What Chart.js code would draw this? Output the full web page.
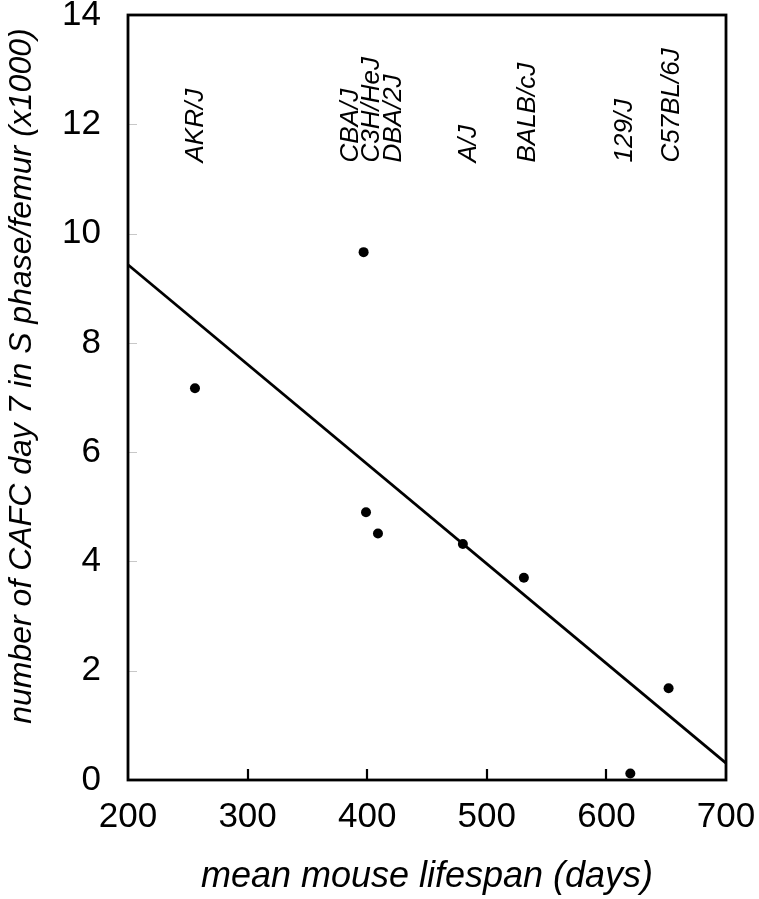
<!DOCTYPE html>
<html>
<head>
<meta charset="utf-8">
<script src="https://cdn.jsdelivr.net/npm/chart.js@4/dist/chart.umd.min.js"></script>
<style>
  html, body { margin:0; padding:0; background:#fff; }
  #wrap { width:759px; height:899px; }
</style>
</head>
<body>
<div id="wrap"><canvas id="chart" width="759" height="899"></canvas></div>
<script>
// mean lifespan (days) vs CAFC day 7 in S phase per femur (x1000)
const lifespan = [256, 397, 399, 409, 480, 531, 620, 652];
const cafc     = [7.17, 9.66, 4.90, 4.51, 4.32, 3.70, 0.12, 1.68];

// regression line end points
const fitX = [200, 700];
const fitY = [9.43, 0.31];

// strain labels along the top of the plot
const strains      = ["AKR/J", "CBA/J", "C3H/HeJ", "DBA/2J", "A/J", "BALB/cJ", "129/J", "C57BL/6J"];
const strainLabelX = [257, 386, 404, 422, 485, 534, 615, 655];
const strainLabelY = 11.3;

const xTicks = [200, 300, 400, 500, 600, 700];
const yTicks = [0, 2, 4, 6, 8, 10, 12, 14];

const yTitle = "number of CAFC day 7 in S phase/femur (x1000)";

const FONT = "'Liberation Sans', Arial, Helvetica, sans-serif";

const framePlugin = {
  id: "frame",
  afterDraw(chart){
    const {ctx, chartArea:{left, right, top, bottom}, scales:{x, y}} = chart;
    ctx.save();
    // inside ticks on x axis
    ctx.strokeStyle = "#000";
    ctx.lineWidth = 2.2;
    xTicks.slice(1, -1).forEach(v => {
      const px = Math.round(x.getPixelForValue(v));
      ctx.beginPath();
      ctx.moveTo(px, bottom);
      ctx.lineTo(px, bottom - 11);
      ctx.stroke();
    });
    // faint inside ticks on y axis
    ctx.strokeStyle = "#c8c8c8";
    ctx.lineWidth = 1;
    yTicks.slice(1, -1).forEach(v => {
      const py = Math.round(y.getPixelForValue(v)) + 0.5;
      ctx.beginPath();
      ctx.moveTo(left, py);
      ctx.lineTo(left + 9, py);
      ctx.stroke();
    });
    ctx.strokeStyle = "#000";
    ctx.lineWidth = 2.8;
    ctx.strokeRect(left, top, right - left, bottom - top);

    ctx.fillStyle = "#000";
    // y axis title, sits a little above the plot centre in the original
    ctx.font = `italic 32px ${FONT}`;
    ctx.textAlign = "center";
    ctx.textBaseline = "middle";
    ctx.save();
    ctx.translate(22, top + (bottom - top) * 0.472);
    ctx.rotate(-Math.PI / 2);
    ctx.fillText(yTitle, 0, 0);
    ctx.restore();

    // strain names
    ctx.font = `italic 26px ${FONT}`;
    ctx.textAlign = "left";
    strains.forEach((s, i) => {
      ctx.save();
      ctx.translate(x.getPixelForValue(strainLabelX[i]), y.getPixelForValue(strainLabelY));
      ctx.rotate(-Math.PI / 2);
      ctx.fillText(s, 0, 0);
      ctx.restore();
    });
    ctx.restore();
  }
};

new Chart(document.getElementById("chart"), {
  type: "scatter",
  data: {
    datasets: [
      {
        label: "fit",
        data: fitX.map((v, i) => ({x: v, y: fitY[i]})),
        showLine: true,
        borderColor: "#000",
        borderWidth: 2.8,
        pointRadius: 0,
        fill: false
      },
      {
        label: "strains",
        data: lifespan.map((v, i) => ({x: v, y: cafc[i]})),
        backgroundColor: "#000",
        borderColor: "#000",
        pointRadius: 5,
        borderWidth: 0
      }
    ]
  },
  options: {
    responsive: false,
    animation: false,
    devicePixelRatio: 1,
    layout: {padding: {top: 15, right: 33, left: 0, bottom: 0}},
    plugins: {legend: {display: false}, tooltip: {enabled: false}},
    scales: {
      x: {
        type: "linear",
        min: 200, max: 700,
        afterBuildTicks: s => { s.ticks = xTicks.map(v => ({value: v})); },
        afterFit: s => { s.height = 119; s.paddingLeft = 0; s.paddingRight = 0; },
        grid: {display: false},
        border: {display: false},
        ticks: {color: "#000", padding: 14, font: {family: FONT, size: 35, lineHeight: 0.85}},
        title: {
          display: true,
          text: "mean mouse lifespan (days)",
          color: "#000",
          font: {family: FONT, size: 36, style: "italic", lineHeight: 1.2},
          padding: {top: 0, bottom: 0}
        }
      },
      y: {
        type: "linear",
        min: 0, max: 14,
        afterBuildTicks: s => { s.ticks = yTicks.map(v => ({value: v})); },
        afterFit: s => { s.width = 128; s.paddingTop = 0; s.paddingBottom = 0; },
        grid: {display: false},
        border: {display: false},
        ticks: {color: "#000", padding: 19, font: {family: FONT, size: 35, lineHeight: 0.85}}
      }
    }
  },
  plugins: [framePlugin]
});
</script>
</body>
</html>
